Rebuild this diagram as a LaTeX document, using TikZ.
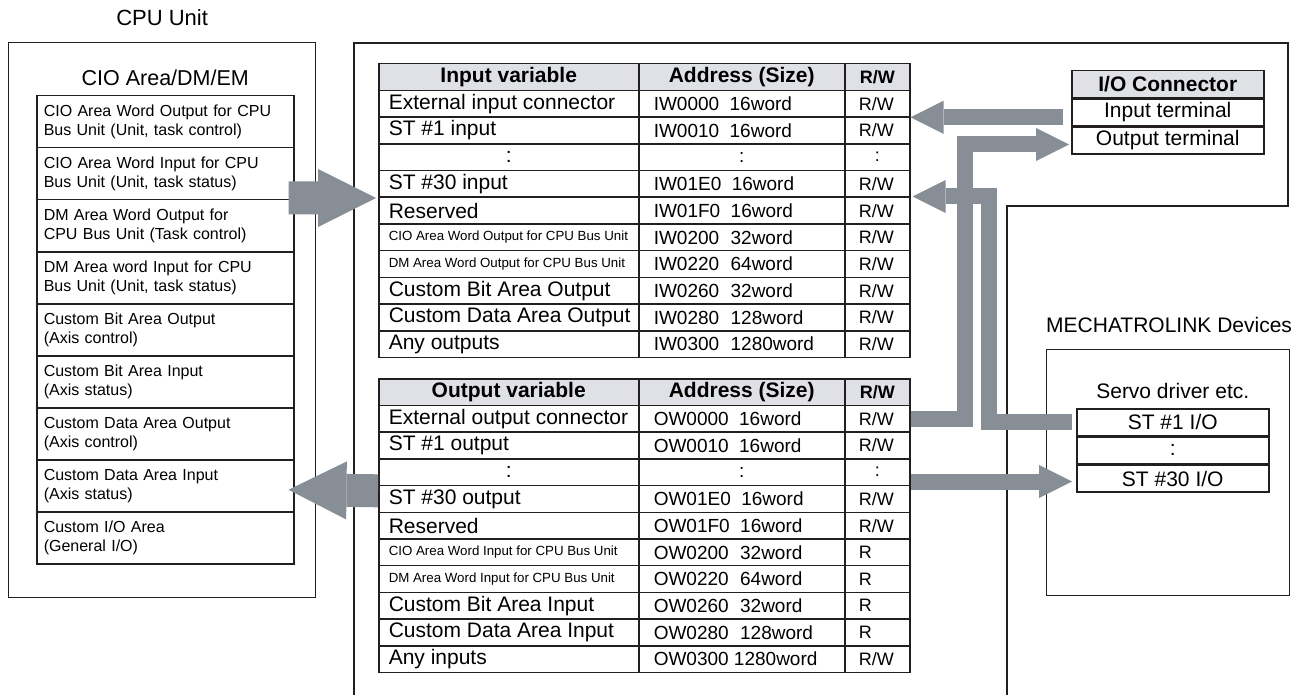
\documentclass[tikz,border=0pt]{standalone}
\usepackage{fontspec}
\setmainfont{Liberation Sans}
\usepackage{tikz}
\usetikzlibrary{arrows.meta, positioning, calc}

\definecolor{inkline}{HTML}{231F20}
\definecolor{flowgrey}{HTML}{878E96}
\definecolor{headgrey}{HTML}{E0E1E6}

\newcommand{\busfont}{\fontsize{13.3}{15}\selectfont}
\newcommand{\wgap}{\hspace{0.6em}}
\newcommand{\wwgap}{\hspace{0.55em}}

\begin{document}
\begin{tikzpicture}[
    x=1pt, y=-1pt,
    node distance=0pt,
    boxline/.style={draw=inkline, line width=1.2pt},
    tabcell/.style={draw=inkline, line width=1.5pt, minimum height=26.7pt, inner ysep=0pt, anchor=north west},
    namecell/.style={tabcell, minimum width=260pt, inner xsep=10pt, font=\fontsize{21}{24}\selectfont},
    addrcell/.style={tabcell, minimum width=206pt, inner xsep=15pt, font=\fontsize{19}{22}\selectfont},
    rwcell/.style={tabcell, minimum width=65pt, inner xsep=14pt, font=\fontsize{18}{21}\selectfont},
    headcell/.style={fill=headgrey, font=\bfseries\fontsize{18}{21}\selectfont},
    listcell/.style={draw=inkline, line width=1.5pt, minimum height=52pt, text width=243pt, inner xsep=7pt, inner ysep=0pt, align=left, anchor=north west, font=\fontsize{16}{19}\selectfont},
    iocell/.style={draw=inkline, line width=1.5pt, minimum width=192pt, minimum height=26.7pt, inner sep=0pt, font=\fontsize{21}{24}\selectfont},
    areatitle/.style={font=\fontsize{21}{24}\selectfont, inner sep=0pt},
    bigflow/.style={draw=flowgrey, line width=33pt, -{Triangle[width=58pt, length=58pt, line width=0pt]}},
    smallflow/.style={draw=flowgrey, line width=16pt, line join=miter, -{Triangle[width=33pt, length=33pt, line width=0pt]}}
]
\useasboundingbox (0,0) rectangle (1301,695);

% CPU unit side
\node[boxline, minimum width=307pt, minimum height=555pt, anchor=north west] (cpu) at (8,42) {};
\node[areatitle, font=\fontsize{22}{24}\selectfont, above=16pt of cpu] {CPU Unit};
\foreach \area [count=\r] in {
    {CIO Area Word Output for CPU\\Bus Unit (Unit, task control)},
    {CIO Area Word Input for CPU\\Bus Unit (Unit, task status)},
    {DM Area Word Output for\\CPU Bus Unit (Task control)},
    {DM Area word Input for CPU\\Bus Unit (Unit, task status)},
    {Custom Bit Area Output\\(Axis control)},
    {Custom Bit Area Input\\(Axis status)},
    {Custom Data Area Output\\(Axis control)},
    {Custom Data Area Input\\(Axis status)},
    {Custom I/O Area\\(General I/O)}}
  \node[listcell] (cio\r) at (36,{95+52*(\r-1)}) {\area};
\node[areatitle, font=\fontsize{21.5}{24}\selectfont, above=9pt of cio1] {CIO Area/DM/EM};

% frame of the unit
\draw[boxline] (354,695) -- (354,43) -- (1288,43) -- (1288,206) -- (1007,206) -- (1007,695);

% input variables
\node[namecell, headcell, font=\bfseries\fontsize{21}{24}\selectfont] (in0-a) at (378,63) {Input variable};
\node[addrcell, headcell, font=\bfseries\fontsize{21}{24}\selectfont] (in0-b) at (638,63) {Address (Size)};
\node[rwcell, headcell] (in0-c) at (844,63) {R/W};
\foreach \vname/\vaddr/\vrw [count=\r] in {
    {External input connector}/{IW0000\wwgap 16word}/{R/W},
    {ST \#1 input}/{IW0010\wwgap 16word}/{R/W},
    {\hfill:\hfill}/{\hfill:\hfill}/{\hfill:\hfill},
    {ST \#30 input}/{IW01E0\wwgap 16word}/{R/W},
    {Reserved}/{IW01F0\wwgap 16word}/{R/W},
    {\busfont CIO Area Word Output for CPU Bus Unit}/{IW0200\wgap 32word}/{R/W},
    {\busfont DM Area Word Output for CPU Bus Unit}/{IW0220\wgap 64word}/{R/W},
    {Custom Bit Area Output}/{IW0260\wgap 32word}/{R/W},
    {Custom Data Area Output}/{IW0280\wgap 128word}/{R/W},
    {Any outputs}/{IW0300\wgap 1280word}/{R/W}}{
  \node[namecell] (in\r-a) at (378,{63+26.7*\r}) {\makebox[240pt][l]{\vname}};
  \node[addrcell] (in\r-b) at (638,{63+26.7*\r}) {\makebox[176pt][l]{\vaddr}};
  \node[rwcell] (in\r-c) at (844,{63+26.7*\r}) {\makebox[37pt][l]{\vrw}};
}

% output variables
\node[namecell, headcell, font=\bfseries\fontsize{21}{24}\selectfont] (out0-a) at (378,378) {Output variable};
\node[addrcell, headcell, font=\bfseries\fontsize{21}{24}\selectfont] (out0-b) at (638,378) {Address (Size)};
\node[rwcell, headcell] (out0-c) at (844,378) {R/W};
\foreach \vname/\vaddr/\vrw [count=\r] in {
    {External output connector}/{OW0000\wwgap 16word}/{R/W},
    {ST \#1 output}/{OW0010\wwgap 16word}/{R/W},
    {\hfill:\hfill}/{\hfill:\hfill}/{\hfill:\hfill},
    {ST \#30 output}/{OW01E0\wwgap 16word}/{R/W},
    {Reserved}/{OW01F0\wwgap 16word}/{R/W},
    {\busfont CIO Area Word Input for CPU Bus Unit}/{OW0200\wgap 32word}/{R},
    {\busfont DM Area Word Input for CPU Bus Unit}/{OW0220\wgap 64word}/{R},
    {Custom Bit Area Input}/{OW0260\wgap 32word}/{R},
    {Custom Data Area Input}/{OW0280\wgap 128word}/{R},
    {Any inputs}/{OW0300 1280word}/{R/W}}{
  \node[namecell] (out\r-a) at (378,{378+26.7*\r}) {\makebox[240pt][l]{\vname}};
  \node[addrcell] (out\r-b) at (638,{378+26.7*\r}) {\makebox[176pt][l]{\vaddr}};
  \node[rwcell] (out\r-c) at (844,{378+26.7*\r}) {\makebox[37pt][l]{\vrw}};
}

% I/O connector
\node[iocell, fill=headgrey, font=\bfseries\fontsize{21}{24}\selectfont, anchor=north west] (iohead) at (1071,70) {I/O Connector};
\node[iocell, below=of iohead] (ioin) {Input terminal};
\node[iocell, below=of ioin] (ioout) {Output terminal};

% MECHATROLINK side
\node[boxline, minimum width=243pt, minimum height=246pt, anchor=north west] (devbox) at (1046,349) {};
\node[areatitle, above left=16pt and -2pt of devbox.north east] {MECHATROLINK Devices};
\node[iocell, anchor=north west] (st1) at (1076,408) {ST \#1 I/O};
\node[iocell, below=of st1] (stdots) {:};
\node[iocell, below=of stdots] (st30) {ST \#30 I/O};
\node[areatitle, above=9pt of st1] {Servo driver etc.};

% data flow
\draw[bigflow] ($(cio2.south east)+(-6,-2.5)$) -- ($(in4-a.south west)+(-2,0)$);
\draw[bigflow] ($(out3-a.south west)+(0,4.5)$) -- ($(cio8.east)+(-6,4)$);
\draw[smallflow] ($(ioin.west)+(-8,5)$) -- ($(ioin.west -| in1-c.east)+(0,5)$);
\draw[smallflow] (out1-c.east) -| ($(ioout.west)+(-106,4)$) -- ($(ioout.west)+(-2,4)$);
\draw[smallflow] ($(st1.west)+(-4,0)$) -| ($(in5-c.north east)+(78,0)$) -- ($(in5-c.north east)+(2,0)$);
\draw[smallflow] ($(st30.west -| out3-c.east)+(0,3)$) -- ($(st30.west)+(-4,3)$);
\end{tikzpicture}
\end{document}
